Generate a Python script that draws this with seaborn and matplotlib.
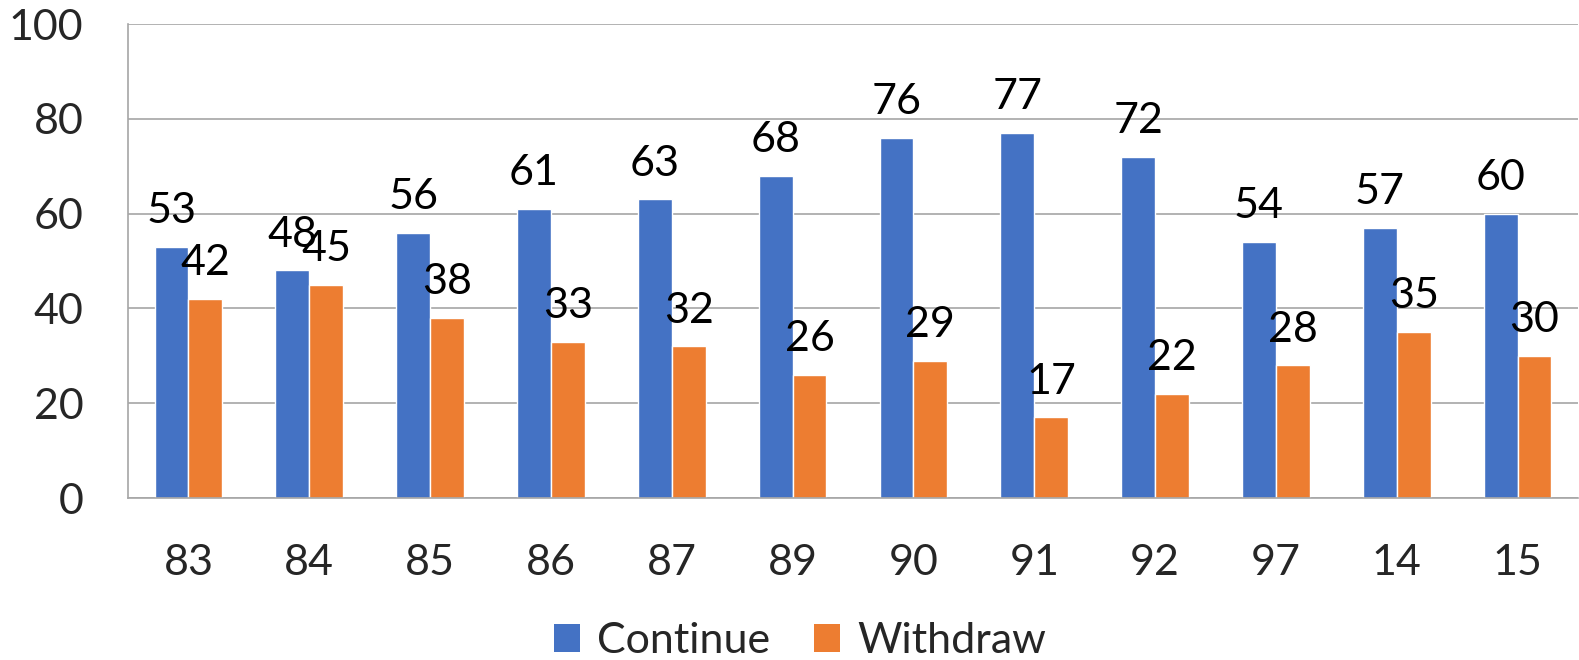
import pandas as pd
import matplotlib
matplotlib.use("Agg")
import matplotlib.pyplot as plt
import seaborn as sns
from matplotlib.ticker import FixedLocator
from matplotlib.patches import Patch

# =====================================================
# DATA
# =====================================================

years = ["83", "84", "85", "86", "87", "89", "90", "91", "92", "97", "14", "15"]
continue_vals = [53, 48, 56, 61, 63, 68, 76, 77, 72, 54, 57, 60]
withdraw_vals = [42, 45, 38, 33, 32, 26, 29, 17, 22, 28, 35, 30]
series_names = ["Continue", "Withdraw"]
colors = ["#4472C4", "#ED7D31"]

df = pd.DataFrame({
    "year": years * 2,
    "value": continue_vals + withdraw_vals,
    "series": [series_names[0]] * len(years) + [series_names[1]] * len(years),
})

# =====================================================
# PLOT
# =====================================================

sns.set_style("white")
plt.rcParams["font.family"] = ["Lato", "DejaVu Sans"]

GRID = "#A6A6A6"
FS = 31

fig = plt.figure(figsize=(15.79, 6.6), dpi=100)
ax = fig.add_axes([128 / 1579, 1 - 498 / 660, 1450 / 1579, 474 / 660])

sns.barplot(
    data=df, x="year", y="value", hue="series",
    order=years, hue_order=series_names,
    palette=colors, width=0.56, gap=0,
    saturation=1, ax=ax, legend=False,
)

for cont in ax.containers:
    ax.bar_label(cont, padding=12, fontsize=FS, color="black")

ax.set_xlim(-0.5, len(years) - 0.5)
ax.set_ylim(0, 100)
ax.set_yticks(range(0, 101, 20))
ax.set_xlabel("")
ax.set_ylabel("")

ax.yaxis.grid(True, color=GRID, linewidth=1.2)
ax.set_axisbelow(True)

for side in ["top", "right"]:
    ax.spines[side].set_visible(False)
for side in ["left", "bottom"]:
    ax.spines[side].set_color(GRID)
    ax.spines[side].set_linewidth(1.2)

ax.tick_params(axis="y", length=10, width=1.2, color=GRID, pad=22, labelsize=FS)
ax.tick_params(axis="x", which="major", length=0, pad=33, labelsize=FS)
ax.xaxis.set_minor_locator(FixedLocator([i - 0.5 for i in range(len(years) + 1)]))
ax.tick_params(axis="x", which="minor", length=10, width=1.2, color=GRID)

handles = [Patch(facecolor=c, edgecolor="none") for c in colors]
fig.legend(
    handles, series_names, loc="center", ncol=2,
    bbox_to_anchor=(800 / 1579, 1 - 641 / 660),
    frameon=False, fontsize=FS, handlelength=0.62, handleheight=0.62,
    handletextpad=0.4, columnspacing=1.0,
)

plt.savefig("out.png", dpi=100)
plt.close()
